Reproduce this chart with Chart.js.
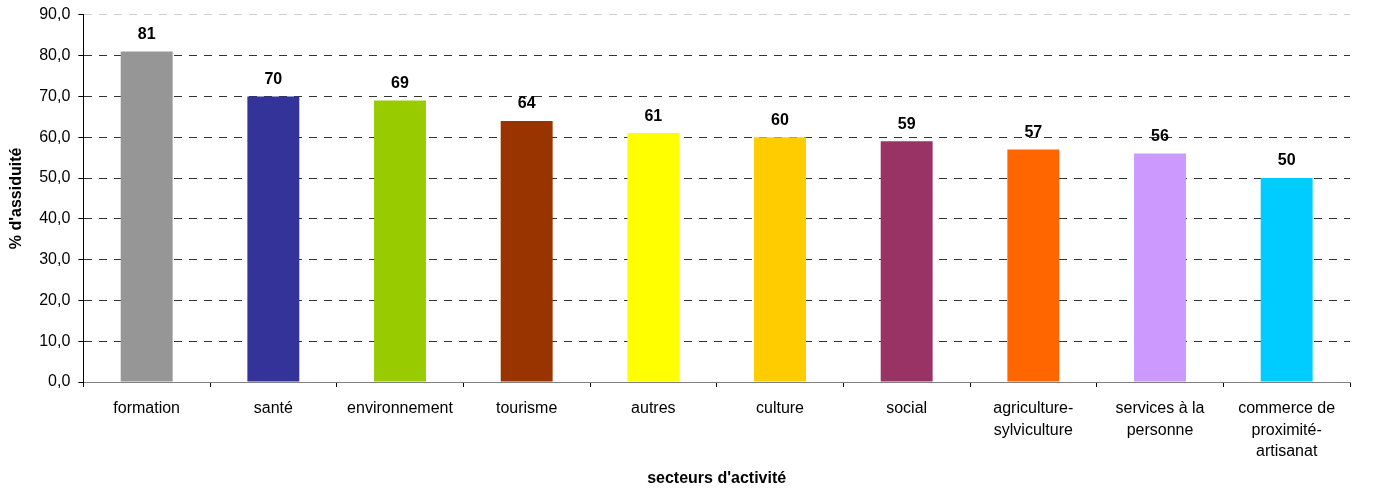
<!DOCTYPE html>
<html lang="fr">
<head>
<meta charset="utf-8">
<title>% d'assiduité par secteur d'activité</title>
<script src="https://cdn.jsdelivr.net/npm/chart.js@4/dist/chart.umd.min.js"></script>
<style>
  html, body { margin: 0; padding: 0; background: #fff; }
  #wrap { width: 1375px; height: 492px; position: relative; }
</style>
</head>
<body>
<div id="wrap"><canvas id="assiduite"></canvas></div>
<script>
const secteurs = [
  "formation",
  "santé",
  "environnement",
  "tourisme",
  "autres",
  "culture",
  "social",
  ["agriculture-", "sylviculture"],
  ["services à la", "personne"],
  ["commerce de", "proximité-", "artisanat"]
];
const assiduite = [81, 70, 69, 64, 61, 60, 59, 57, 56, 50];
const couleurs = [
  "#969696", "#333399", "#99cc00", "#993300", "#ffff00",
  "#ffcc00", "#993366", "#ff6600", "#cc99ff", "#00ccff"
];
const yTicks = [0, 10, 20, 30, 40, 50, 60, 70, 80, 90];

const FONT = "'Liberation Sans', Arial, sans-serif";

// writes the value above each bar
const valueLabels = {
  id: "valueLabels",
  afterDatasetsDraw(chart) {
    const ctx = chart.ctx;
    const meta = chart.getDatasetMeta(0);
    ctx.save();
    ctx.font = "bold 16px " + FONT;
    ctx.fillStyle = "#000";
    ctx.textAlign = "center";
    ctx.textBaseline = "middle";
    meta.data.forEach((bar, i) => {
      ctx.fillText(String(assiduite[i]), bar.x, bar.y - 17);
    });
    ctx.restore();
  }
};

new Chart(document.getElementById("assiduite"), {
  type: "bar",
  data: {
    labels: secteurs,
    datasets: [{
      data: assiduite,
      backgroundColor: couleurs,
      borderWidth: 0,
      categoryPercentage: 1,
      barPercentage: 0.41
    }]
  },
  options: {
    responsive: true,
    maintainAspectRatio: false,
    animation: false,
    layout: { padding: { top: 0, right: 25, bottom: 4, left: 7 } },
    plugins: {
      legend: { display: false },
      tooltip: { enabled: false }
    },
    scales: {
      x: {
        offset: true,
        grid: {
          offset: true,
          drawOnChartArea: false,
          drawTicks: true,
          tickLength: 5,
          tickColor: "#000"
        },
        border: { color: "#808080", width: 1 },
        ticks: {
          color: "#000",
          font: { family: FONT, size: 16, lineHeight: 1.35 },
          maxRotation: 0,
          autoSkip: false,
          padding: 11
        },
        title: {
          display: true,
          text: "secteurs d'activité",
          color: "#000",
          font: { family: FONT, size: 16, weight: "bold" },
          padding: { top: -5, bottom: 0 }
        }
      },
      y: {
        min: 0,
        max: 90,
        afterBuildTicks(axis) {
          axis.ticks = yTicks.map(v => ({ value: v }));
        },
        grid: {
          color: ctx => ctx.tick && ctx.tick.value === 90 ? "#cfcfcf" : "#333",
          tickLength: 5,
          tickColor: "#000",
          tickBorderDash: []
        },
        // dash pattern of the horizontal grid lines
        border: { color: "#000", width: 1, dash: [8, 7] },
        ticks: {
          color: "#000",
          // small line height so the top label needs less room
          font: { family: FONT, size: 16, lineHeight: 0.85 },
          padding: 8,
          callback: v => v.toFixed(1).replace(".", ",")
        },
        title: {
          display: true,
          text: "% d'assiduité",
          color: "#000",
          font: { family: FONT, size: 16, weight: "bold" },
          padding: { top: 0, bottom: 5 }
        }
      }
    }
  },
  plugins: [valueLabels]
});
</script>
</body>
</html>
